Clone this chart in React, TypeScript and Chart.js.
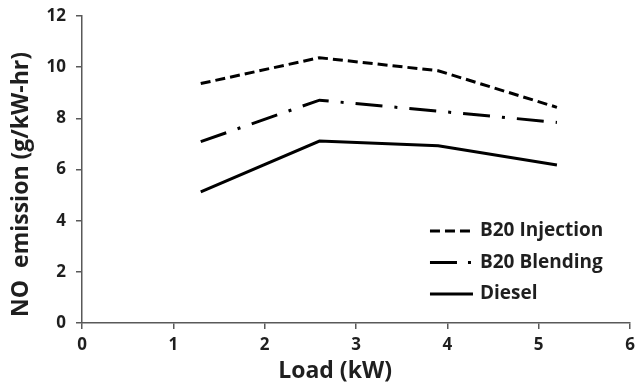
import React, { useEffect, useRef } from "react";
import { Chart, registerables } from "chart.js";

Chart.register(...registerables);

const loads = [1.3, 2.6, 3.9, 5.2];
const b20Injection = [9.36, 10.37, 9.86, 8.43];
const b20Blending = [7.09, 8.71, 8.28, 7.84];
const diesel = [5.13, 7.11, 6.93, 6.18];
const xTicks = [0, 1, 2, 3, 4, 5, 6];
const yTicks = [0, 2, 4, 6, 8, 10, 12];

const FONT = "'Open Sans', sans-serif";
const TEXT = "#1f1f1f";
const AXIS = "#595959";

const series = [
  { label: "B20 Injection", data: b20Injection, dash: [10, 5] },
  { label: "B20 Blending", data: b20Blending, dash: [27, 12, 3, 12] },
  { label: "Diesel", data: diesel, dash: [] as number[] },
];

const legendPlugin = {
  id: "insideLegend",
  afterDraw(chart: any) {
    const ctx = chart.ctx;
    const area = chart.chartArea;
    const x0 = area.left + (area.right - area.left) * 0.635;
    const y0 = area.top + (area.bottom - area.top) * 0.70;
    const rowH = 31.5;
    const legendDashes = [[10, 5], [27, 11, 3, 40], []];
    ctx.save();
    chart.data.datasets.forEach((ds: any, i: number) => {
      const y = y0 + i * rowH;
      ctx.beginPath();
      ctx.setLineDash(legendDashes[i]);
      ctx.lineWidth = 3;
      ctx.strokeStyle = "#000";
      ctx.moveTo(x0, y);
      ctx.lineTo(x0 + (i === 2 ? 43 : 41), y);
      ctx.stroke();
      ctx.setLineDash([]);
      ctx.fillStyle = TEXT;
      ctx.font = `bold 19px ${FONT}`;
      ctx.textBaseline = "middle";
      ctx.textAlign = "left";
      ctx.fillText(ds.label, x0 + 50, y);
    });
    ctx.restore();
  },
};

export default function App() {
  const ref = useRef<HTMLCanvasElement>(null);
  useEffect(() => {
    document.body.style.margin = "0";
    const chart = new Chart(ref.current!, {
      type: "line",
      data: {
        datasets: series.map((s) => ({
          label: s.label,
          data: loads.map((x, i) => ({ x, y: s.data[i] })),
          borderColor: "#000",
          borderWidth: 3,
          borderDash: s.dash,
          borderCapStyle: "butt" as const,
          pointRadius: 0,
          fill: false,
          tension: 0,
        })),
      },
      options: {
        animation: false,
        responsive: false,
        maintainAspectRatio: false,
        layout: { padding: { top: 0, right: 0, left: 0, bottom: 0 } },
        plugins: { legend: { display: false }, tooltip: { enabled: false } },
        scales: {
          x: {
            type: "linear",
            min: 0,
            max: 6,
            afterBuildTicks: (s: any) => {
              s.ticks = xTicks.map((v) => ({ value: v }));
            },
            grid: {
              display: true,
              drawOnChartArea: false,
              drawTicks: true,
              tickLength: 6,
              color: AXIS,
              lineWidth: 1.5,
            },
            border: { color: AXIS, width: 1.5 },
            ticks: {
              color: TEXT,
              font: { family: FONT, size: 17, weight: "bold" },
              padding: 6,
              maxRotation: 0,
            },
            title: {
              display: true,
              text: "Load (kW)       ",
              color: TEXT,
              font: { family: FONT, size: 23, weight: "bold" },
              padding: { top: 0, bottom: 0 },
            },
            afterFit: (s: any) => {
              s.height = 62;
              s.paddingRight = 5;
            },
          },
          y: {
            type: "linear",
            min: 0,
            max: 12,
            afterBuildTicks: (s: any) => {
              s.ticks = yTicks.map((v) => ({ value: v }));
            },
            grid: {
              display: true,
              drawOnChartArea: false,
              drawTicks: true,
              tickLength: 6,
              color: AXIS,
              lineWidth: 1.5,
            },
            border: { color: AXIS, width: 1.5 },
            ticks: {
              color: TEXT,
              font: { family: FONT, size: 17, weight: "bold" },
              padding: 10,
            },
            title: {
              display: true,
              text: "NO  emission (g/kW-hr)     ",
              color: TEXT,
              font: { family: FONT, size: 23, weight: "bold" },
              padding: { top: 8, bottom: 0 },
            },
            afterFit: (s: any) => {
              s.width = 82;
              s.paddingTop = 16;
            },
          },
        },
      },
      plugins: [legendPlugin],
    });
    return () => chart.destroy();
  }, []);
  return (
    <div style={{ width: 635, height: 385 }}>
      <canvas ref={ref} width={635} height={385} style={{ width: 635, height: 385 }} />
    </div>
  );
}
